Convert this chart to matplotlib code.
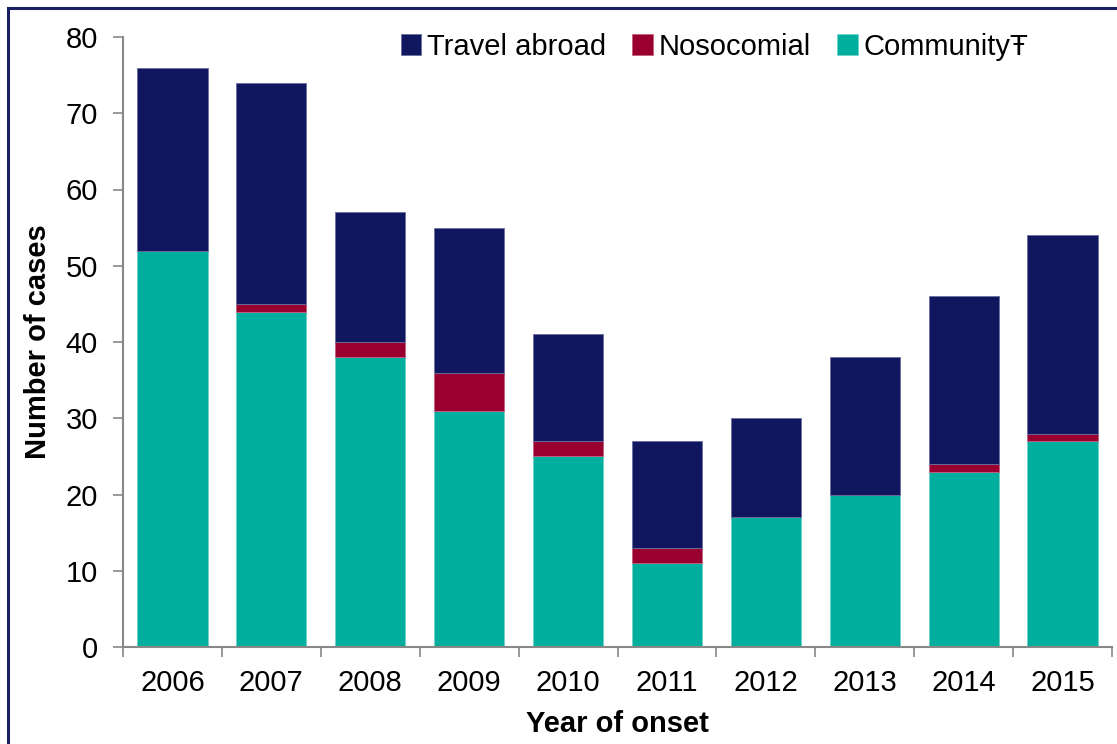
import numpy as np
import matplotlib
matplotlib.use('Agg')
import matplotlib.pyplot as plt
from matplotlib.patches import Rectangle

years = ['2006', '2007', '2008', '2009', '2010', '2011', '2012', '2013', '2014', '2015']
community = [52, 44, 38, 31, 25, 11, 17, 20, 23, 27]
nosocomial = [0, 1, 2, 5, 2, 2, 0, 0, 1, 1]
travel = [24, 29, 17, 19, 14, 14, 13, 18, 22, 26]

c_comm = '#00AE9D'
c_noso = '#990030'
c_trav = '#10175E'

plt.rcParams['font.family'] = ['Liberation Sans', 'DejaVu Sans']

fig = plt.figure(figsize=(11.17, 7.44), dpi=100)
ax = fig.add_axes([123/1117, 1 - 647/744, (1112 - 123)/1117, (647 - 37)/744])

x = np.arange(len(years))
comm = np.array(community)
noso = np.array(nosocomial)
trav = np.array(travel)
w = 0.71

ax.bar(x, comm, w, color=c_comm, edgecolor='#6fd3c9', linewidth=0.6, label='Community\u0166')
ax.bar(x, noso, w, bottom=comm, color=c_noso, edgecolor='#c06080', linewidth=0.6, label='Nosocomial')
ax.bar(x, trav, w, bottom=comm + noso, color=c_trav, edgecolor='#6a6fa0', linewidth=0.6, label='Travel abroad')

ax.set_xlim(-0.5, len(years) - 0.5)
ax.set_ylim(0, 80)
ax.set_yticks(range(0, 81, 10))

# category boundaries as major ticks, labels on minor ticks
ax.set_xticks(np.arange(-0.5, len(years), 1.0))
ax.set_xticklabels([])
ax.set_xticks(x, minor=True)
ax.set_xticklabels(years, minor=True)
ax.tick_params(axis='x', which='major', length=7, width=1.2, color='#888888')
ax.tick_params(axis='x', which='minor', length=0, pad=16, labelsize=21)
ax.tick_params(axis='y', length=7, width=1.2, color='#888888', pad=11, labelsize=21)

for s in ['top', 'right']:
    ax.spines[s].set_visible(False)
for s in ['left', 'bottom']:
    ax.spines[s].set_color('#888888')
    ax.spines[s].set_linewidth(1.5)

ax.set_xlabel('Year of onset', fontsize=21, fontweight='bold', labelpad=9)
ax.set_ylabel('Number of cases', fontsize=21, fontweight='bold', labelpad=10)

h, l = ax.get_legend_handles_labels()
ax.legend(h[::-1], l[::-1], loc='center', bbox_to_anchor=(0.598, 0.984), ncol=3,
          frameon=False, fontsize=21, handlelength=0.7, handleheight=0.7,
          handletextpad=0.2, columnspacing=0.9)

# dark frame around the figure (only top and left visible)
fig.patches.append(Rectangle((7.5/1117, -0.5), 2, 0.5 + 1 - 7.5/744, transform=fig.transFigure,
                             fill=False, edgecolor='#1A1F66', linewidth=2.2, figure=fig))

fig.savefig('out.png', dpi=100)
